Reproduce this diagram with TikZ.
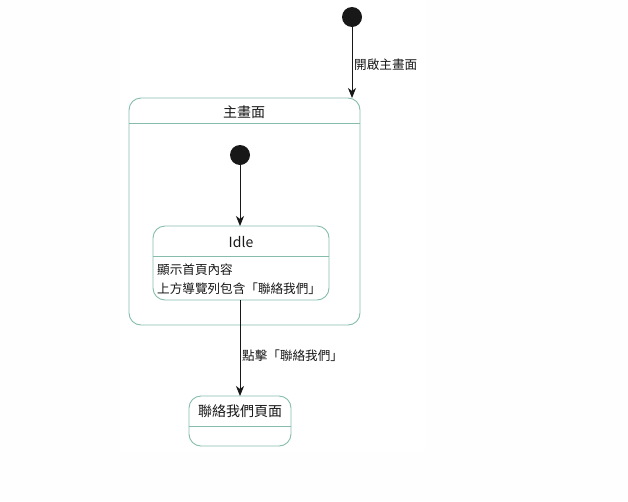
\documentclass[tikz,border=0pt]{standalone}
\usepackage{fontspec}
\setmainfont{Noto Sans CJK TC}
\usetikzlibrary{arrows.meta}
\definecolor{edgeteal}{HTML}{86BCAE}
\definecolor{ink}{HTML}{181818}
\definecolor{pagebg}{HTML}{FEFEFE}
\tikzset{
  statebox/.style={draw=edgeteal, line width=0.9pt, fill=white, rounded corners=12pt},
  divider/.style={draw=edgeteal, line width=0.9pt},
  startdot/.style={circle, fill=ink, minimum size=20pt, inner sep=0pt},
  trans/.style={draw=ink, line width=0.9pt, -{Stealth[length=10pt, width=8pt, inset=3pt]}},
  lbl/.style={font=\fontsize{12.6}{15}\selectfont, text=ink, inner sep=0pt},
  ttl/.style={font=\fontsize{14}{16}\selectfont, text=ink, inner sep=0pt}
}
\begin{document}
\begin{tikzpicture}[x=1pt, y=-1pt]
  % canvas
  \fill[pagebg] (0,0) rectangle (628,501);
  \fill[white] (120,0) rectangle (425,452);
  \useasboundingbox (0,0) rectangle (628,501);

  % outer initial state
  \node[startdot] (init) at (352,17) {};

  % composite state: main screen
  \path[statebox] (129,98) rectangle (360,325);
  \coordinate (mainTop) at (352,98);
  \draw[divider] (129,123) -- (360,123);
  \node[ttl] (mainTitle) at (244,112) {主畫面};

  % inner initial state
  \node[startdot] (inner) at (240,155) {};

  % Idle state
  \path[statebox] (153,226) rectangle (329,300);
  \coordinate (idleTop) at (240,226);
  \coordinate (idleBot) at (240,300);
  \draw[divider] (153,256) -- (329,256);
  \node[ttl] (idleTitle) at (241,242) {Idle};
  \node[lbl, anchor=west] (idleL1) at (157,270) {顯示首頁內容};
  \node[lbl, anchor=west] (idleL2) at (157,289) {上方導覽列包含「聯絡我們」};

  % contact page state
  \path[statebox] (189,396) rectangle (291,446);
  \coordinate (contactTop) at (240,396);
  \draw[divider] (189,426) -- (291,426);
  \node[ttl] (contactTitle) at (240,411) {聯絡我們頁面};

  % transitions
  \draw[trans] (init) -- (mainTop);
  \node[lbl, anchor=west] (lblOpen) at (354,65) {開啟主畫面};
  \draw[trans] (inner) -- (idleTop);
  \draw[trans] (idleBot) -- (contactTop);
  \node[lbl, anchor=west] (lblClick) at (242,356) {點擊「聯絡我們」};
\end{tikzpicture}
\end{document}
